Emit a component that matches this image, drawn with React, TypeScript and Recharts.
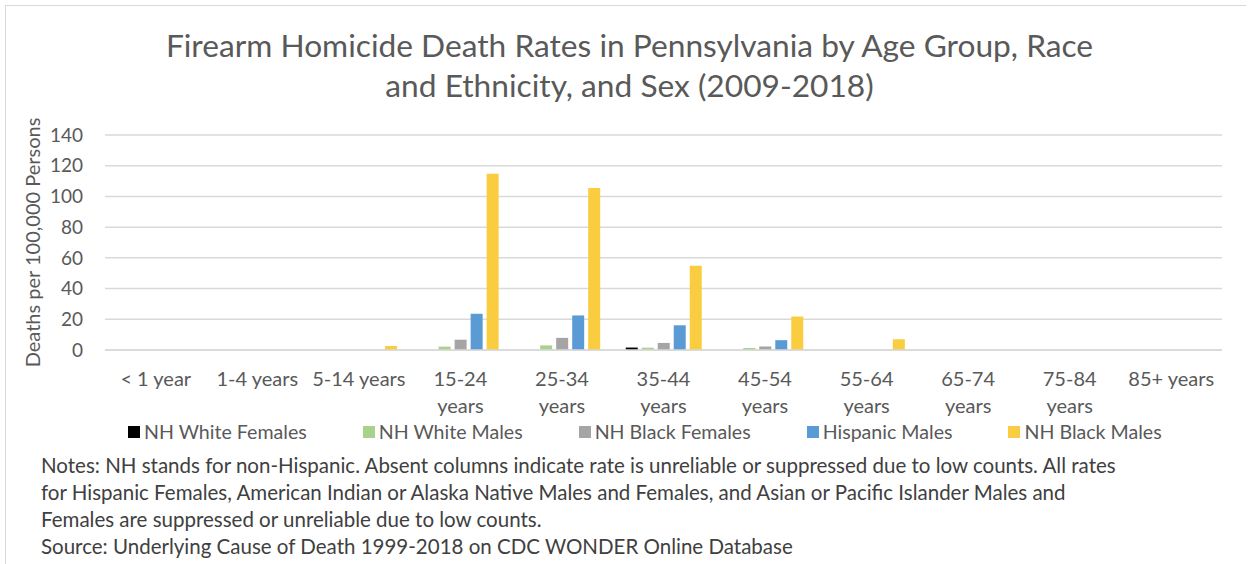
import React from 'react';
import { BarChart, Bar, XAxis, YAxis, CartesianGrid, Legend } from 'recharts';

const FONT = 'Lato, "Open Sans", sans-serif';

const ageGroups = [
  '< 1 year', '1-4 years', '5-14 years', '15-24 years', '25-34 years', '35-44 years',
  '45-54 years', '55-64 years', '65-74 years', '75-84 years', '85+ years',
];
const nhWhiteFemales = [null, null, null, null, null, 1.6, null, null, null, null, null];
const nhWhiteMales = [null, null, null, 2.2, 3.0, 1.5, 1.3, null, null, null, null];
const nhBlackFemales = [null, null, null, 6.7, 7.9, 4.6, 2.3, null, null, null, null];
const hispanicMales = [null, null, null, 23.6, 22.5, 16.1, 6.4, null, null, null, null];
const nhBlackMales = [null, null, 2.6, 114.8, 105.5, 54.8, 21.8, 7.0, null, null, null];
const yTicks = [0, 20, 40, 60, 80, 100, 120, 140];

const seriesKeys = ['nhwf', 'nhwm', 'nhbf', 'hm', 'nhbm'];
const seriesNames = ['NH White Females', 'NH White Males', 'NH Black Females', 'Hispanic Males', 'NH Black Males'];
const seriesColors = ['#000000', '#a9d18e', '#a5a5a5', '#5b9bd5', '#f9cd3f'];
const seriesValues = [nhWhiteFemales, nhWhiteMales, nhBlackFemales, hispanicMales, nhBlackMales];

const titleLines = ['Firearm Homicide Death Rates in Pennsylvania by Age Group, Race', 'and Ethnicity, and Sex (2009-2018)'];
const yAxisTitle = 'Deaths per 100,000 Persons';
const noteLines = [
  'Notes: NH stands for non-Hispanic. Absent columns indicate rate is unreliable or suppressed due to low counts. All rates',
  'for Hispanic Females, American Indian or Alaska Native Males and Females, and Asian or Pacific Islander Males and',
  'Females are suppressed or unreliable due to low counts.',
  'Source: Underlying Cause of Death 1999-2018 on CDC WONDER Online Database',
];

const data = ageGroups.map((age, i) => {
  const row: Record<string, any> = { age };
  seriesKeys.forEach((k, s) => { row[k] = seriesValues[s][i]; });
  return row;
});

let measureCtx: CanvasRenderingContext2D | null = null;
function measureText(s: string, font: string): number {
  if (!measureCtx) measureCtx = document.createElement('canvas').getContext('2d');
  if (!measureCtx) return s.length * 10;
  measureCtx.font = font;
  return measureCtx.measureText(s).width;
}
function wrapLabel(label: string, maxWidth: number, font: string): string[] {
  const words = String(label).split(' ');
  const lines: string[] = [];
  let cur = '';
  words.forEach((w) => {
    const test = cur ? cur + ' ' + w : w;
    if (cur && measureText(test, font) > maxWidth) {
      lines.push(cur);
      cur = w;
    } else {
      cur = test;
    }
  });
  if (cur) lines.push(cur);
  return lines;
}

const TICK_FONT_SIZE = 20;
const AgeTick = (props: any) => {
  const { x, y, payload } = props;
  const lines = wrapLabel(payload.value, 97, `${TICK_FONT_SIZE}px Lato`);
  return (
    <text x={x} y={y} textAnchor="middle" fill="#595959" fontSize={TICK_FONT_SIZE} fontFamily={FONT}>
      {lines.map((l, i) => (
        <tspan key={i} x={x} dy={i === 0 ? '0.71em' : 27}>{l}</tspan>
      ))}
    </text>
  );
};

const LegendContent = (props: any) => {
  const payload = [...(props.payload || [])].sort(
    (a: any, b: any) => seriesNames.indexOf(a.value) - seriesNames.indexOf(b.value)
  );
  return (
    <div style={{ display: 'flex', alignItems: 'center', height: 24, paddingLeft: 128, fontFamily: FONT, fontSize: 19.6, lineHeight: '24px', color: '#595959', whiteSpace: 'nowrap' }}>
      {payload.map((p: any, i: number) => (
        <div key={i} style={{ display: 'flex', alignItems: 'center', marginRight: 56 }}>
          <span style={{ display: 'inline-block', width: 12, height: 12, background: p.color, marginRight: 4 }} />
          <span>{p.value}</span>
        </div>
      ))}
    </div>
  );
};

const YTitle = (props: any) => {
  const vb = props.viewBox || { x: 0, y: 135, width: 105, height: 215 };
  const cx = vb.x + 32;
  const cy = vb.y + vb.height / 2;
  return (
    <text x={cx} y={cy} transform={`rotate(-90 ${cx} ${cy})`} textAnchor="middle" dominantBaseline="central"
      fill="#595959" fontSize={20} fontFamily={FONT}>
      {yAxisTitle}
    </text>
  );
};

export default function App() {
  return (
    <div style={{ position: 'relative', width: 1249, height: 564, overflow: 'hidden', background: '#fff' }}>
      <style>{'body{margin:0;font-family:Lato,"Open Sans",sans-serif;}'}</style>
      <div style={{ position: 'absolute', left: 5, top: 5, width: 1240, height: 600, borderTop: '1.5px solid #d9d9d9', borderLeft: '1.5px solid #d9d9d9' }} />
      <div style={{ position: 'absolute', left: 5, top: 24.7, width: 1249, textAlign: 'center', fontFamily: FONT, fontSize: 31.7, lineHeight: '40px', color: '#595959' }}>
        {titleLines.map((t, i) => <div key={i}>{t}</div>)}
      </div>
      <div style={{ position: 'absolute', left: 0, top: 0 }}>
        <BarChart width={1249} height={564} data={data} margin={{ top: 135, right: 27, bottom: 154, left: 0 }} barGap={4}>
          <CartesianGrid vertical={false} stroke="#d9d9d9" strokeWidth={1.5} />
          <XAxis dataKey="age" height={60} tickLine={false} axisLine={{ stroke: '#d9d9d9', strokeWidth: 1.5 }} tickMargin={15.8} tick={<AgeTick />} interval={0} />
          <YAxis width={105} domain={[0, 140]} ticks={yTicks} tickLine={false} axisLine={false} tickMargin={16}
            tick={{ fill: '#595959', fontSize: 19, fontFamily: FONT }} label={{ content: <YTitle /> }} />
          <Legend layout="horizontal" verticalAlign="middle" align="center"
            wrapperStyle={{ top: 420.3, left: 0, width: 1249, height: 24 }} content={<LegendContent />} />
          {seriesKeys.map((k, s) => (
            <Bar key={k} dataKey={k} name={seriesNames[s]} fill={seriesColors[s]} barSize={12} isAnimationActive={false} />
          ))}
        </BarChart>
      </div>
      <div style={{ position: 'absolute', left: 41, top: 452, fontFamily: FONT, fontSize: 20.5, lineHeight: '27px', color: '#404040', whiteSpace: 'nowrap' }}>
        {noteLines.map((t, i) => <div key={i}>{t}</div>)}
      </div>
    </div>
  );
}
